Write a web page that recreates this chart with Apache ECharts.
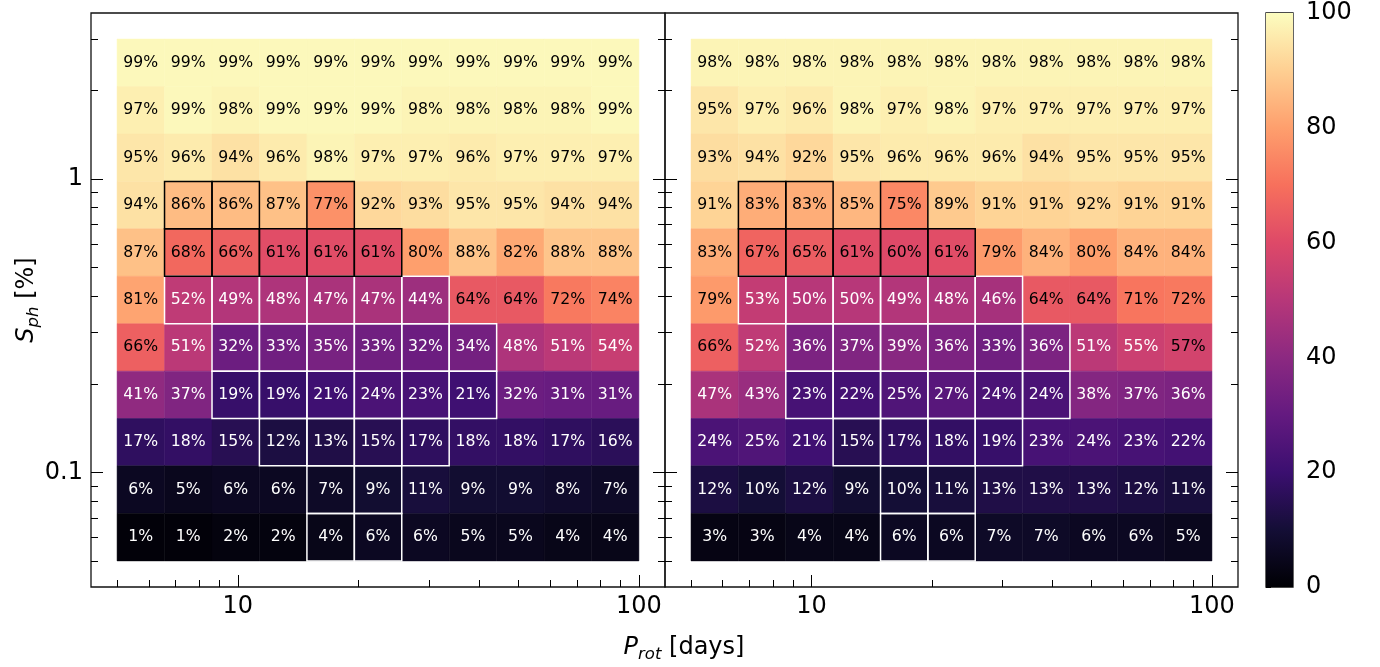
<!DOCTYPE html>
<html><head><meta charset="utf-8">
<script src="https://cdn.jsdelivr.net/npm/echarts@6/dist/echarts.min.js"></script>
<style>html,body{margin:0;padding:0;background:#fff}#chart{width:1380px;height:667px}</style>
</head><body><div id="chart"></div>
<script>
// Bin edges (log-spaced) of the grid
const pEdges = [5.0, 6.566, 8.623, 11.32, 14.87, 19.52, 25.63, 33.65, 44.19, 58.02, 76.18, 100];
// S_ph edges from top row to bottom row
const sEdges = [3.0, 2.068, 1.424, 0.9821, 0.6769, 0.4666, 0.3215, 0.2216, 0.1528, 0.1054, 0.07255, 0.05];

// Percentages, rows from top (largest S_ph) to bottom
const leftValues = [
  [99, 99, 99, 99, 99, 99, 99, 99, 99, 99, 99],
  [97, 99, 98, 99, 99, 99, 98, 98, 98, 98, 99],
  [95, 96, 94, 96, 98, 97, 97, 96, 97, 97, 97],
  [94, 86, 86, 87, 77, 92, 93, 95, 95, 94, 94],
  [87, 68, 66, 61, 61, 61, 80, 88, 82, 88, 88],
  [81, 52, 49, 48, 47, 47, 44, 64, 64, 72, 74],
  [66, 51, 32, 33, 35, 33, 32, 34, 48, 51, 54],
  [41, 37, 19, 19, 21, 24, 23, 21, 32, 31, 31],
  [17, 18, 15, 12, 13, 15, 17, 18, 18, 17, 16],
  [6, 5, 6, 6, 7, 9, 11, 9, 9, 8, 7],
  [1, 1, 2, 2, 4, 6, 6, 5, 5, 4, 4]
];
const rightValues = [
  [98, 98, 98, 98, 98, 98, 98, 98, 98, 98, 98],
  [95, 97, 96, 98, 97, 98, 97, 97, 97, 97, 97],
  [93, 94, 92, 95, 96, 96, 96, 94, 95, 95, 95],
  [91, 83, 83, 85, 75, 89, 91, 91, 92, 91, 91],
  [83, 67, 65, 61, 60, 61, 79, 84, 80, 84, 84],
  [79, 53, 50, 50, 49, 48, 46, 64, 64, 71, 72],
  [66, 52, 36, 37, 39, 36, 33, 36, 51, 55, 57],
  [47, 43, 23, 22, 25, 27, 24, 24, 38, 37, 36],
  [24, 25, 21, 15, 17, 18, 19, 23, 24, 23, 22],
  [12, 10, 12, 9, 10, 11, 13, 13, 13, 12, 11],
  [3, 3, 4, 4, 6, 6, 7, 7, 6, 6, 5]
];
// 0 = none, 1 = black outline, 2 = white outline
const highlight = [
  [0,0,0,0,0,0,0,0,0,0,0],
  [0,0,0,0,0,0,0,0,0,0,0],
  [0,0,0,0,0,0,0,0,0,0,0],
  [0,1,1,0,1,0,0,0,0,0,0],
  [0,1,1,1,1,1,0,0,0,0,0],
  [0,2,2,2,2,2,2,0,0,0,0],
  [0,0,2,2,2,2,2,2,0,0,0],
  [0,0,2,2,2,2,2,2,0,0,0],
  [0,0,0,2,2,2,2,0,0,0,0],
  [0,0,0,0,2,2,0,0,0,0,0],
  [0,0,0,0,2,2,0,0,0,0,0]
];

const xMajorTicks = [10, 100];
const xMinorTicks = [5, 6, 7, 8, 9, 20, 30, 40, 50, 60, 70, 80, 90];
const yMajorTicks = [0.1, 1];
const yMinorTicks = [0.05, 0.06, 0.07, 0.08, 0.09, 0.2, 0.3, 0.4, 0.5, 0.6, 0.7, 0.8, 0.9, 2, 3];
const colorbarTicks = [0, 20, 40, 60, 80, 100];

const magma = ['#000004','#140e36','#3b0f70','#641a80','#8c2981','#b73779','#de4968','#f7705c','#fe9f6d','#fecf92','#fcfdbf'];

const FONT = 'DejaVu Sans';
const X_MIN = 4.305, X_MAX = 116.16, Y_MIN = 0.04074, Y_MAX = 3.681;

function buildCells(values) {
  const out = [];
  for (let r = 0; r < values.length; r++) {
    for (let c = 0; c < values[r].length; c++) {
      out.push([pEdges[c], pEdges[c + 1], sEdges[r + 1], sEdges[r], values[r][c], highlight[r][c]]);
    }
  }
  return out;
}

function renderCell(params, api) {
  const p0 = api.coord([api.value(0), api.value(3)]);
  const p1 = api.coord([api.value(1), api.value(2)]);
  const v = api.value(4);
  const w = p1[0] - p0[0], h = p1[1] - p0[1];
  return {
    type: 'group',
    children: [
      { type: 'rect', shape: { x: p0[0], y: p0[1], width: w, height: h },
        style: { fill: api.visual('color'), stroke: api.visual('color'), lineWidth: 0.5 } },
      { type: 'text', x: p0[0] + w / 2, y: p0[1] + h / 2, z2: 5,
        style: { text: v + '%', fill: v >= 56 ? '#000' : '#fff', fontSize: 15.7, fontFamily: FONT,
                 align: 'center', verticalAlign: 'middle' } }
    ]
  };
}

function renderBorder(params, api) {
  const m = api.value(5);
  if (!m) return null;
  const p0 = api.coord([api.value(0), api.value(3)]);
  const p1 = api.coord([api.value(1), api.value(2)]);
  return {
    type: 'rect', z2: m === 1 ? 10 : 5,
    shape: { x: p0[0], y: p0[1], width: p1[0] - p0[0], height: p1[1] - p0[1] },
    style: { fill: 'none', stroke: m === 1 ? '#000' : '#fff', lineWidth: 1.5 }
  };
}

function xAxisDef(grid, ticks, len, labels) {
  return {
    type: 'log', logBase: 10, gridIndex: grid, min: X_MIN, max: X_MAX, position: 'bottom',
    axisLine: { show: false, onZero: false },
    axisTick: { show: true, inside: true, length: len, customValues: ticks, lineStyle: { color: '#000', width: 1 } },
    axisLabel: labels ? { show: true, customValues: ticks, margin: 8, fontSize: 24, fontFamily: FONT, color: '#000',
                          formatter: v => String(v) } : { show: false },
    splitLine: { show: false }, minorTick: { show: false }
  };
}
function yAxisDef(grid, pos, ticks, len, labels) {
  return {
    type: 'log', logBase: 10, gridIndex: grid, min: Y_MIN, max: Y_MAX, position: pos,
    axisLine: { show: false, onZero: false },
    axisTick: { show: true, inside: true, length: len, customValues: ticks, lineStyle: { color: '#000', width: 1 } },
    axisLabel: labels ? { show: true, customValues: ticks, margin: 8, fontSize: 24, fontFamily: FONT, color: '#000',
                          formatter: v => String(v) } : { show: false },
    splitLine: { show: false }, minorTick: { show: false }
  };
}

const leftCells = buildCells(leftValues);
const rightCells = buildCells(rightValues);
const dims = ['x0', 'x1', 'y0', 'y1', 'v', 'm'];

const gridStyle = { show: true, borderColor: '#111', borderWidth: 1.3, backgroundColor: 'transparent' };
const titleRich = {
  i: { fontSize: 24, fontStyle: 'italic', fontFamily: FONT, lineHeight: 30 },
  s: { fontSize: 16.5, fontStyle: 'italic', fontFamily: FONT, verticalAlign: 'bottom', lineHeight: 16 }
};

const option = {
  animation: false,
  backgroundColor: '#fff',
  grid: [
    Object.assign({ left: 91, top: 13, width: 574, height: 574 }, gridStyle),
    Object.assign({ left: 665, top: 13, width: 573, height: 574 }, gridStyle),
    Object.assign({ left: 1266, top: 13, width: 27, height: 574 }, gridStyle)
  ],
  xAxis: [
    xAxisDef(0, xMajorTicks, 12, true),
    xAxisDef(0, xMinorTicks, 7, false),
    xAxisDef(1, xMajorTicks, 12, true),
    xAxisDef(1, xMinorTicks, 7, false),
    { type: 'value', gridIndex: 2, min: 0, max: 1, show: false }
  ],
  yAxis: [
    yAxisDef(0, 'left', yMajorTicks, 12, true),
    yAxisDef(0, 'left', yMinorTicks, 7, false),
    yAxisDef(0, 'right', yMajorTicks, 12, false),
    yAxisDef(0, 'right', yMinorTicks, 7, false),
    yAxisDef(1, 'left', yMajorTicks, 12, false),
    yAxisDef(1, 'left', yMinorTicks, 7, false),
    yAxisDef(1, 'right', yMajorTicks, 12, false),
    yAxisDef(1, 'right', yMinorTicks, 7, false),
    {
      type: 'value', gridIndex: 2, min: 0, max: 100, interval: 20, position: 'right',
      axisLine: { show: false },
      axisTick: { show: true, inside: false, length: 5, customValues: colorbarTicks, lineStyle: { color: '#000', width: 1 } },
      axisLabel: { show: true, customValues: colorbarTicks, margin: 13, fontSize: 24, fontFamily: FONT, color: '#000' },
      splitLine: { show: false }
    }
  ],
  visualMap: {
    type: 'continuous', show: false, min: 0, max: 100, dimension: 4, seriesIndex: [0, 1],
    inRange: { color: magma }
  },
  series: [
    { type: 'custom', xAxisIndex: 0, yAxisIndex: 0, dimensions: dims, encode: { x: [0, 1], y: [2, 3] },
      renderItem: renderCell, data: leftCells, z: 2, clip: false },
    { type: 'custom', xAxisIndex: 2, yAxisIndex: 4, dimensions: dims, encode: { x: [0, 1], y: [2, 3] },
      renderItem: renderCell, data: rightCells, z: 2, clip: false },
    { type: 'custom', xAxisIndex: 0, yAxisIndex: 0, dimensions: dims, encode: { x: [0, 1], y: [2, 3] },
      renderItem: renderBorder, data: leftCells, z: 4, clip: false },
    { type: 'custom', xAxisIndex: 2, yAxisIndex: 4, dimensions: dims, encode: { x: [0, 1], y: [2, 3] },
      renderItem: renderBorder, data: rightCells, z: 4, clip: false },
    { type: 'custom', xAxisIndex: 4, yAxisIndex: 8, encode: { x: [0, 2], y: [1, 3] },
      data: [[0, 0, 1, 100]], z: 2,
      renderItem: function (params, api) {
        const p0 = api.coord([api.value(0), api.value(3)]);
        const p1 = api.coord([api.value(2), api.value(1)]);
        const stops = magma.map((c, i) => ({ offset: i / (magma.length - 1), color: c }));
        return { type: 'rect', shape: { x: p0[0], y: p0[1], width: p1[0] - p0[0], height: p1[1] - p0[1] },
                 style: { fill: new echarts.graphic.LinearGradient(0, 1, 0, 0, stops) } };
      } }
  ],
  graphic: [
    { type: 'text', x: 684, y: 648,
      style: { text: '{i|P}{s|rot} [days]', align: 'center', verticalAlign: 'middle',
               fontSize: 24, fontFamily: FONT, fill: '#000', rich: titleRich } },
    { type: 'text', x: 27, y: 300, rotation: Math.PI / 2,
      style: { text: '{i|S}{s|ph} [%]', align: 'center', verticalAlign: 'middle',
               fontSize: 24, fontFamily: FONT, fill: '#000', rich: titleRich } }
  ]
};

const chart = echarts.init(document.getElementById('chart'), null, { renderer: 'canvas' });
chart.setOption(option);
</script>
</body></html>
